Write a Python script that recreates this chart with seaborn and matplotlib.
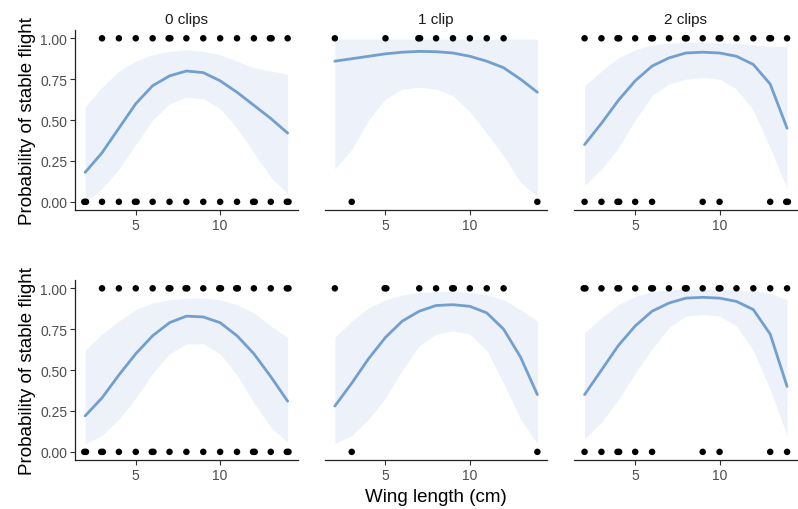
import numpy as np
import pandas as pd
import matplotlib
matplotlib.use("Agg")
import matplotlib.pyplot as plt
import seaborn as sns

# ---------------- data ----------------
panel_titles = ["0 clips", "1 clip", "2 clips", "", "", ""]
curve_x = [2, 3, 4, 5, 6, 7, 8, 9, 10, 11, 12, 13, 14]

# observed wing lengths for stable (1) and unstable (0) flights, per panel
p1_stable   = [3, 4, 5, 6, 6.95, 7.05, 8, 9, 10, 11, 12, 12.95, 13.05, 14]
p1_unstable = [1.95, 2.05, 3, 4, 4.95, 5.05, 6, 7, 8, 9, 10, 11, 11.95, 12.05, 13, 13.95, 14.05]
p2_stable   = [2, 5, 6.95, 7.05, 8, 9, 10, 11, 12]
p2_unstable = [3, 14]
p3_stable   = [2, 3, 3.95, 4.05, 5, 5.95, 6.05, 7, 7.95, 8.05, 9, 9.95, 10.05, 11, 12, 12.95, 13.05, 14]
p3_unstable = [2, 3, 3.95, 4.05, 5, 6, 9, 10, 13, 13.95, 14.05]
p4_stable   = [3, 4, 5, 6, 6.95, 7.05, 7.95, 8.05, 9, 9.95, 10.05, 10.95, 11.05, 12, 13, 13.95, 14.05]
p4_unstable = [1.95, 2.05, 2.95, 3.05, 4, 5, 5.95, 6.05, 7, 8, 9, 10, 11, 11.95, 12.05, 13, 13.95, 14.05]
p5_stable   = [2, 4.95, 5.05, 7, 8, 8.95, 9.05, 10, 11, 12]
p5_unstable = [3, 14]
p6_stable   = [1.95, 2.05, 3, 3.95, 4.05, 5, 5.95, 6.05, 7, 7.95, 8.05, 9, 9.95, 10.05, 11, 12, 13, 14]
p6_unstable = [2, 3, 3.95, 4.05, 5, 6, 9, 10, 13, 14]

# fitted probability and confidence band, read at integer wing lengths
p1_fit = [0.18, 0.30, 0.45, 0.60, 0.71, 0.77, 0.80, 0.79, 0.74, 0.67, 0.59, 0.51, 0.42]
p1_lo  = [0.00, 0.08, 0.20, 0.35, 0.50, 0.60, 0.64, 0.63, 0.57, 0.45, 0.30, 0.15, 0.05]
p1_hi  = [0.58, 0.70, 0.80, 0.86, 0.90, 0.92, 0.93, 0.92, 0.90, 0.86, 0.82, 0.80, 0.78]
p2_fit = [0.86, 0.875, 0.89, 0.905, 0.915, 0.92, 0.918, 0.91, 0.89, 0.86, 0.82, 0.75, 0.67]
p2_lo  = [0.20, 0.32, 0.50, 0.63, 0.69, 0.70, 0.69, 0.65, 0.55, 0.42, 0.28, 0.12, 0.03]
p2_hi  = [0.995, 0.995, 0.995, 0.995, 0.995, 0.995, 0.995, 0.995, 0.995, 0.995, 0.995, 0.995, 0.995]
p3_fit = [0.35, 0.48, 0.62, 0.74, 0.83, 0.88, 0.91, 0.915, 0.91, 0.89, 0.84, 0.72, 0.45]
p3_lo  = [0.10, 0.20, 0.33, 0.50, 0.65, 0.72, 0.75, 0.76, 0.75, 0.69, 0.56, 0.33, 0.08]
p3_hi  = [0.71, 0.80, 0.88, 0.93, 0.96, 0.97, 0.975, 0.975, 0.975, 0.97, 0.96, 0.95, 0.95]
p4_fit = [0.22, 0.33, 0.47, 0.60, 0.71, 0.79, 0.83, 0.825, 0.79, 0.71, 0.60, 0.46, 0.31]
p4_lo  = [0.05, 0.10, 0.20, 0.33, 0.48, 0.60, 0.66, 0.66, 0.60, 0.47, 0.30, 0.15, 0.06]
p4_hi  = [0.62, 0.72, 0.80, 0.87, 0.91, 0.93, 0.94, 0.94, 0.93, 0.90, 0.85, 0.77, 0.70]
p5_fit = [0.28, 0.42, 0.57, 0.70, 0.80, 0.86, 0.895, 0.90, 0.89, 0.85, 0.75, 0.58, 0.35]
p5_lo  = [0.05, 0.10, 0.20, 0.33, 0.50, 0.65, 0.72, 0.74, 0.72, 0.62, 0.42, 0.20, 0.05]
p5_hi  = [0.70, 0.80, 0.88, 0.93, 0.96, 0.975, 0.98, 0.98, 0.975, 0.96, 0.93, 0.87, 0.80]
p6_fit = [0.35, 0.50, 0.65, 0.77, 0.86, 0.91, 0.94, 0.945, 0.94, 0.92, 0.87, 0.72, 0.40]
p6_lo  = [0.08, 0.18, 0.32, 0.48, 0.63, 0.76, 0.83, 0.84, 0.83, 0.77, 0.62, 0.38, 0.10]
p6_hi  = [0.73, 0.82, 0.90, 0.95, 0.98, 0.99, 0.995, 0.995, 0.995, 0.99, 0.985, 0.97, 0.93]

x_ticks = [5, 10]
y_ticks = [0.00, 0.25, 0.50, 0.75, 1.00]
y_tick_labels = ["0.00", "0.25", "0.50", "0.75", "1.00"]

stable_sets = [p1_stable, p2_stable, p3_stable, p4_stable, p5_stable, p6_stable]
unstable_sets = [p1_unstable, p2_unstable, p3_unstable, p4_unstable, p5_unstable, p6_unstable]
fits = [p1_fit, p2_fit, p3_fit, p4_fit, p5_fit, p6_fit]
los = [p1_lo, p2_lo, p3_lo, p4_lo, p5_lo, p6_lo]
his = [p1_hi, p2_hi, p3_hi, p4_hi, p5_hi, p6_hi]

# ---------------- plot ----------------
sns.set_style("white")
plt.rcParams["font.family"] = ["Liberation Sans", "DejaVu Sans"]

fig, axes = plt.subplots(2, 3, figsize=(7.98, 5.10), dpi=100)
fig.subplots_adjust(left=0.094, right=0.999, top=0.939, bottom=0.096,
                    wspace=0.121, hspace=0.39)

line_col = "#729fcf"
band_col = "#edf2fa"
grey = "#4d4d4d"

for i, ax in enumerate(axes.flat):
    pts = pd.DataFrame({
        "wing": list(stable_sets[i]) + list(unstable_sets[i]),
        "stable": [1.0] * len(stable_sets[i]) + [0.0] * len(unstable_sets[i]),
    })
    cur = pd.DataFrame({"wing": curve_x, "fit": fits[i], "lo": los[i], "hi": his[i]})

    ax.fill_between(cur["wing"], cur["lo"], cur["hi"], color=band_col, lw=0, zorder=1)
    sns.lineplot(data=cur, x="wing", y="fit", ax=ax, color=line_col, lw=2.0, zorder=2)
    sns.scatterplot(data=pts, x="wing", y="stable", ax=ax, color="black", s=22,
                    edgecolor="none", zorder=3, clip_on=False)

    ax.set_xlim(1.4, 14.6)
    ax.set_ylim(-0.05, 1.05)
    ax.set_xticks(x_ticks)
    ax.set_xticklabels([str(t) for t in x_ticks])
    ax.tick_params(axis="x", length=3.5, width=0.8, color="#333333",
                   labelsize=10, labelcolor=grey, pad=2)
    ax.set_xlabel("")
    ax.set_ylabel("")
    for s in ["top", "right"]:
        ax.spines[s].set_visible(False)
    ax.spines["bottom"].set_color("#222222")
    ax.spines["bottom"].set_linewidth(0.9)
    if i % 3 == 0:
        ax.set_yticks(y_ticks)
        ax.set_yticklabels(y_tick_labels)
        ax.tick_params(axis="y", length=3.5, width=0.8, color="#333333",
                       labelsize=10, labelcolor=grey, pad=2, left=True)
        ax.spines["left"].set_color("#222222")
        ax.spines["left"].set_linewidth(0.9)
        ax.set_ylabel("Probability of stable flight", fontsize=13.5, color="black", labelpad=3)
    else:
        ax.set_yticks([])
        ax.spines["left"].set_visible(False)
    ax.tick_params(axis="x", bottom=True)
    if panel_titles[i]:
        ax.set_title(panel_titles[i], fontsize=11, color="#1a1a1a", pad=5)

fig.text(0.5 * (0.094 + 0.999), 0.008, "Wing length (cm)", ha="center", va="bottom",
         fontsize=13.5, color="black")

fig.savefig("out.png", dpi=100, facecolor="white")
